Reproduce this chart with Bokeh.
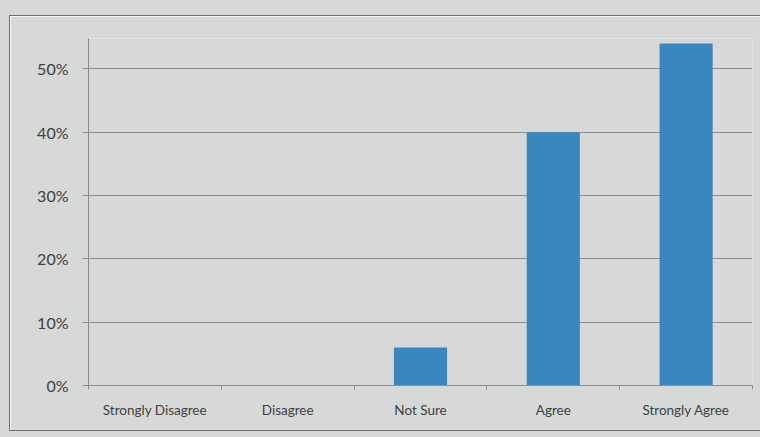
from bokeh.plotting import figure
from bokeh.models import FixedTicker, NumeralTickFormatter, Range1d
from bokeh.embed import file_html
from bokeh.resources import INLINE

categories = ["Strongly Disagree", "Disagree", "Not Sure", "Agree", "Strongly Agree"]
shares = [0.0, 0.0, 0.06, 0.40, 0.54]
y_ticks = [0.0, 0.1, 0.2, 0.3, 0.4, 0.5]

BG = "#d6d9d7"
TXT = "#404040"
GRID = "#8c8e8d"

xs = [i + 0.5 for i in range(len(categories))]

p = figure(width=752, height=416, output_backend="svg", toolbar_location=None,
           x_range=Range1d(0, len(categories)), y_range=Range1d(0, 0.548),
           min_border_left=78, min_border_right=10, min_border_top=22, min_border_bottom=47)
p.styles = {"margin-left": "9px", "margin-top": "15px",
            "border": "1px solid #707271",
            "box-shadow": "0 0 0 40px " + BG}
p.background_fill_color = BG
p.border_fill_color = BG
p.outline_line_color = None

p.vbar(x=xs, top=shares, width=0.4, bottom=0, fill_color="#3a86be", line_color=None)

p.xgrid.visible = False
p.ygrid.grid_line_color = GRID
p.ygrid.grid_line_width = 1.2
p.ygrid.ticker = FixedTicker(ticks=y_ticks)

p.yaxis.ticker = FixedTicker(ticks=y_ticks)
p.yaxis.formatter = NumeralTickFormatter(format="0%")
p.yaxis.axis_line_color = GRID
p.yaxis.major_tick_line_color = GRID
p.yaxis.major_tick_out = 6
p.yaxis.major_tick_in = 0
p.yaxis.minor_tick_line_color = None
p.yaxis.major_label_text_font = "Lato"
p.yaxis.major_label_text_font_size = "16px"
p.yaxis.major_label_text_color = TXT
p.yaxis.major_label_standoff = 14

p.xaxis.ticker = FixedTicker(ticks=xs, minor_ticks=list(range(len(categories) + 1)))
p.xaxis.major_label_overrides = {x: c for x, c in zip(xs, categories)}
p.xaxis.axis_line_color = GRID
p.xaxis.axis_line_width = 1.2
p.xaxis.major_tick_line_color = None
p.xaxis.minor_tick_line_color = GRID
p.xaxis.minor_tick_out = 4
p.xaxis.minor_tick_in = 0
p.xaxis.major_label_text_font = "Lato"
p.xaxis.major_label_text_font_size = "13.5px"
p.xaxis.major_label_text_color = TXT
p.xaxis.major_label_standoff = 10

open("out.html", "w").write(file_html(p, INLINE))
